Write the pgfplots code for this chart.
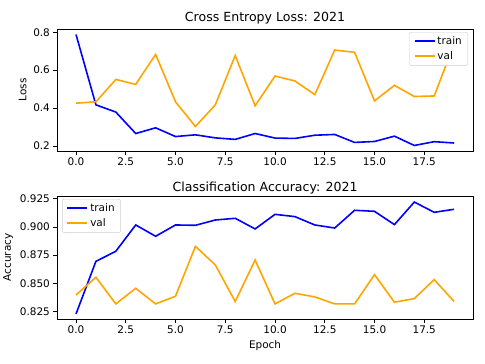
\documentclass[border=0pt]{standalone}
\usepackage{fontspec}
\setmainfont{DejaVu Sans}
\usepackage{pgfplots}
\pgfplotsset{compat=1.18}
\definecolor{mplOrange}{HTML}{FFA500}

\pgfplotsset{
  histax/.style={
    scale only axis, width=416bp,
    xmin=-0.95, xmax=19.95,
    xtick={0,2.5,...,17.5},
    tick align=outside, major tick length=3.7bp,
    xtick pos=bottom, ytick pos=left,
    axis line style={black, line width=0.6pt},
    tick style={black, line width=0.6pt},
    /pgf/number format/assume math mode=true,
    tick label style={font=\fontsize{10.5}{12}\selectfont},
    label style={font=\fontsize{10.5}{12}\selectfont},
    title style={font=\fontsize{12.6}{14}\selectfont, yshift=-5bp},
    xticklabel style={/pgf/number format/.cd, fixed, fixed zerofill, precision=1},
    legend style={font=\fontsize{10.5}{12}\selectfont, draw=black!20, rounded corners=2bp,
      inner xsep=4bp, inner ysep=2.5bp, row sep=1.5bp},
    legend cell align=left,
    legend image code/.code={\draw[#1, line width=2bp, yshift=0.5bp] (0bp,0bp) -- (20bp,0bp);},
    every axis plot/.append style={line width=1.6bp},
  },
}

\begin{document}
\begin{tikzpicture}[x=1bp,y=1bp]
\path (0,0) rectangle (485,364);

\begin{axis}[histax, at={(57bp,213bp)}, anchor=south west, height=122bp,
  ymin=0.174, ymax=0.817, ytick={0.2,0.4,0.6,0.8},
  yticklabel style={/pgf/number format/.cd, fixed, fixed zerofill, precision=1},
  ylabel={Loss},
  title={Cross Entropy Loss: 2021},
  legend style={at={(0.988,0.975)}, anchor=north east}]
\addplot[blue] coordinates {(0,0.788) (1,0.417) (2,0.379) (3,0.266) (4,0.296) (5,0.250) (6,0.259) (7,0.243) (8,0.235) (9,0.266) (10,0.242) (11,0.240) (12,0.257) (13,0.261) (14,0.219) (15,0.224) (16,0.252) (17,0.203) (18,0.223) (19,0.216)};
\addplot[mplOrange] coordinates {(0,0.426) (1,0.433) (2,0.551) (3,0.525) (4,0.683) (5,0.433) (6,0.303) (7,0.417) (8,0.677) (9,0.412) (10,0.569) (11,0.543) (12,0.471) (13,0.706) (14,0.694) (15,0.438) (16,0.520) (17,0.461) (18,0.464) (19,0.738)};
\legend{train, val}
\end{axis}

\begin{axis}[histax, at={(57bp,45bp)}, anchor=south west, height=123bp,
  ymin=0.8185, ymax=0.9274, ytick={0.825,0.85,0.875,0.9,0.925},
  yticklabel style={/pgf/number format/.cd, fixed, fixed zerofill, precision=3},
  ylabel={Accuracy}, xlabel={Epoch},
  title style={yshift=-3bp},
  title={Classification Accuracy: 2021},
  legend style={at={(0.012,0.975)}, anchor=north west}]
\addplot[blue] coordinates {(0,0.8229) (1,0.8695) (2,0.8784) (3,0.9017) (4,0.8917) (5,0.9017) (6,0.9014) (7,0.9061) (8,0.9076) (9,0.8982) (10,0.9111) (11,0.9091) (12,0.9017) (13,0.8990) (14,0.9147) (15,0.9138) (16,0.9020) (17,0.9220) (18,0.9129) (19,0.9156)};
\addplot[mplOrange] coordinates {(0,0.8397) (1,0.8554) (2,0.8318) (3,0.8456) (4,0.8318) (5,0.8386) (6,0.8828) (7,0.8663) (8,0.8339) (9,0.8707) (10,0.8318) (11,0.8412) (12,0.8380) (13,0.8318) (14,0.8318) (15,0.8577) (16,0.8333) (17,0.8365) (18,0.8533) (19,0.8339)};
\legend{train, val}
\end{axis}
\end{tikzpicture}
\end{document}
